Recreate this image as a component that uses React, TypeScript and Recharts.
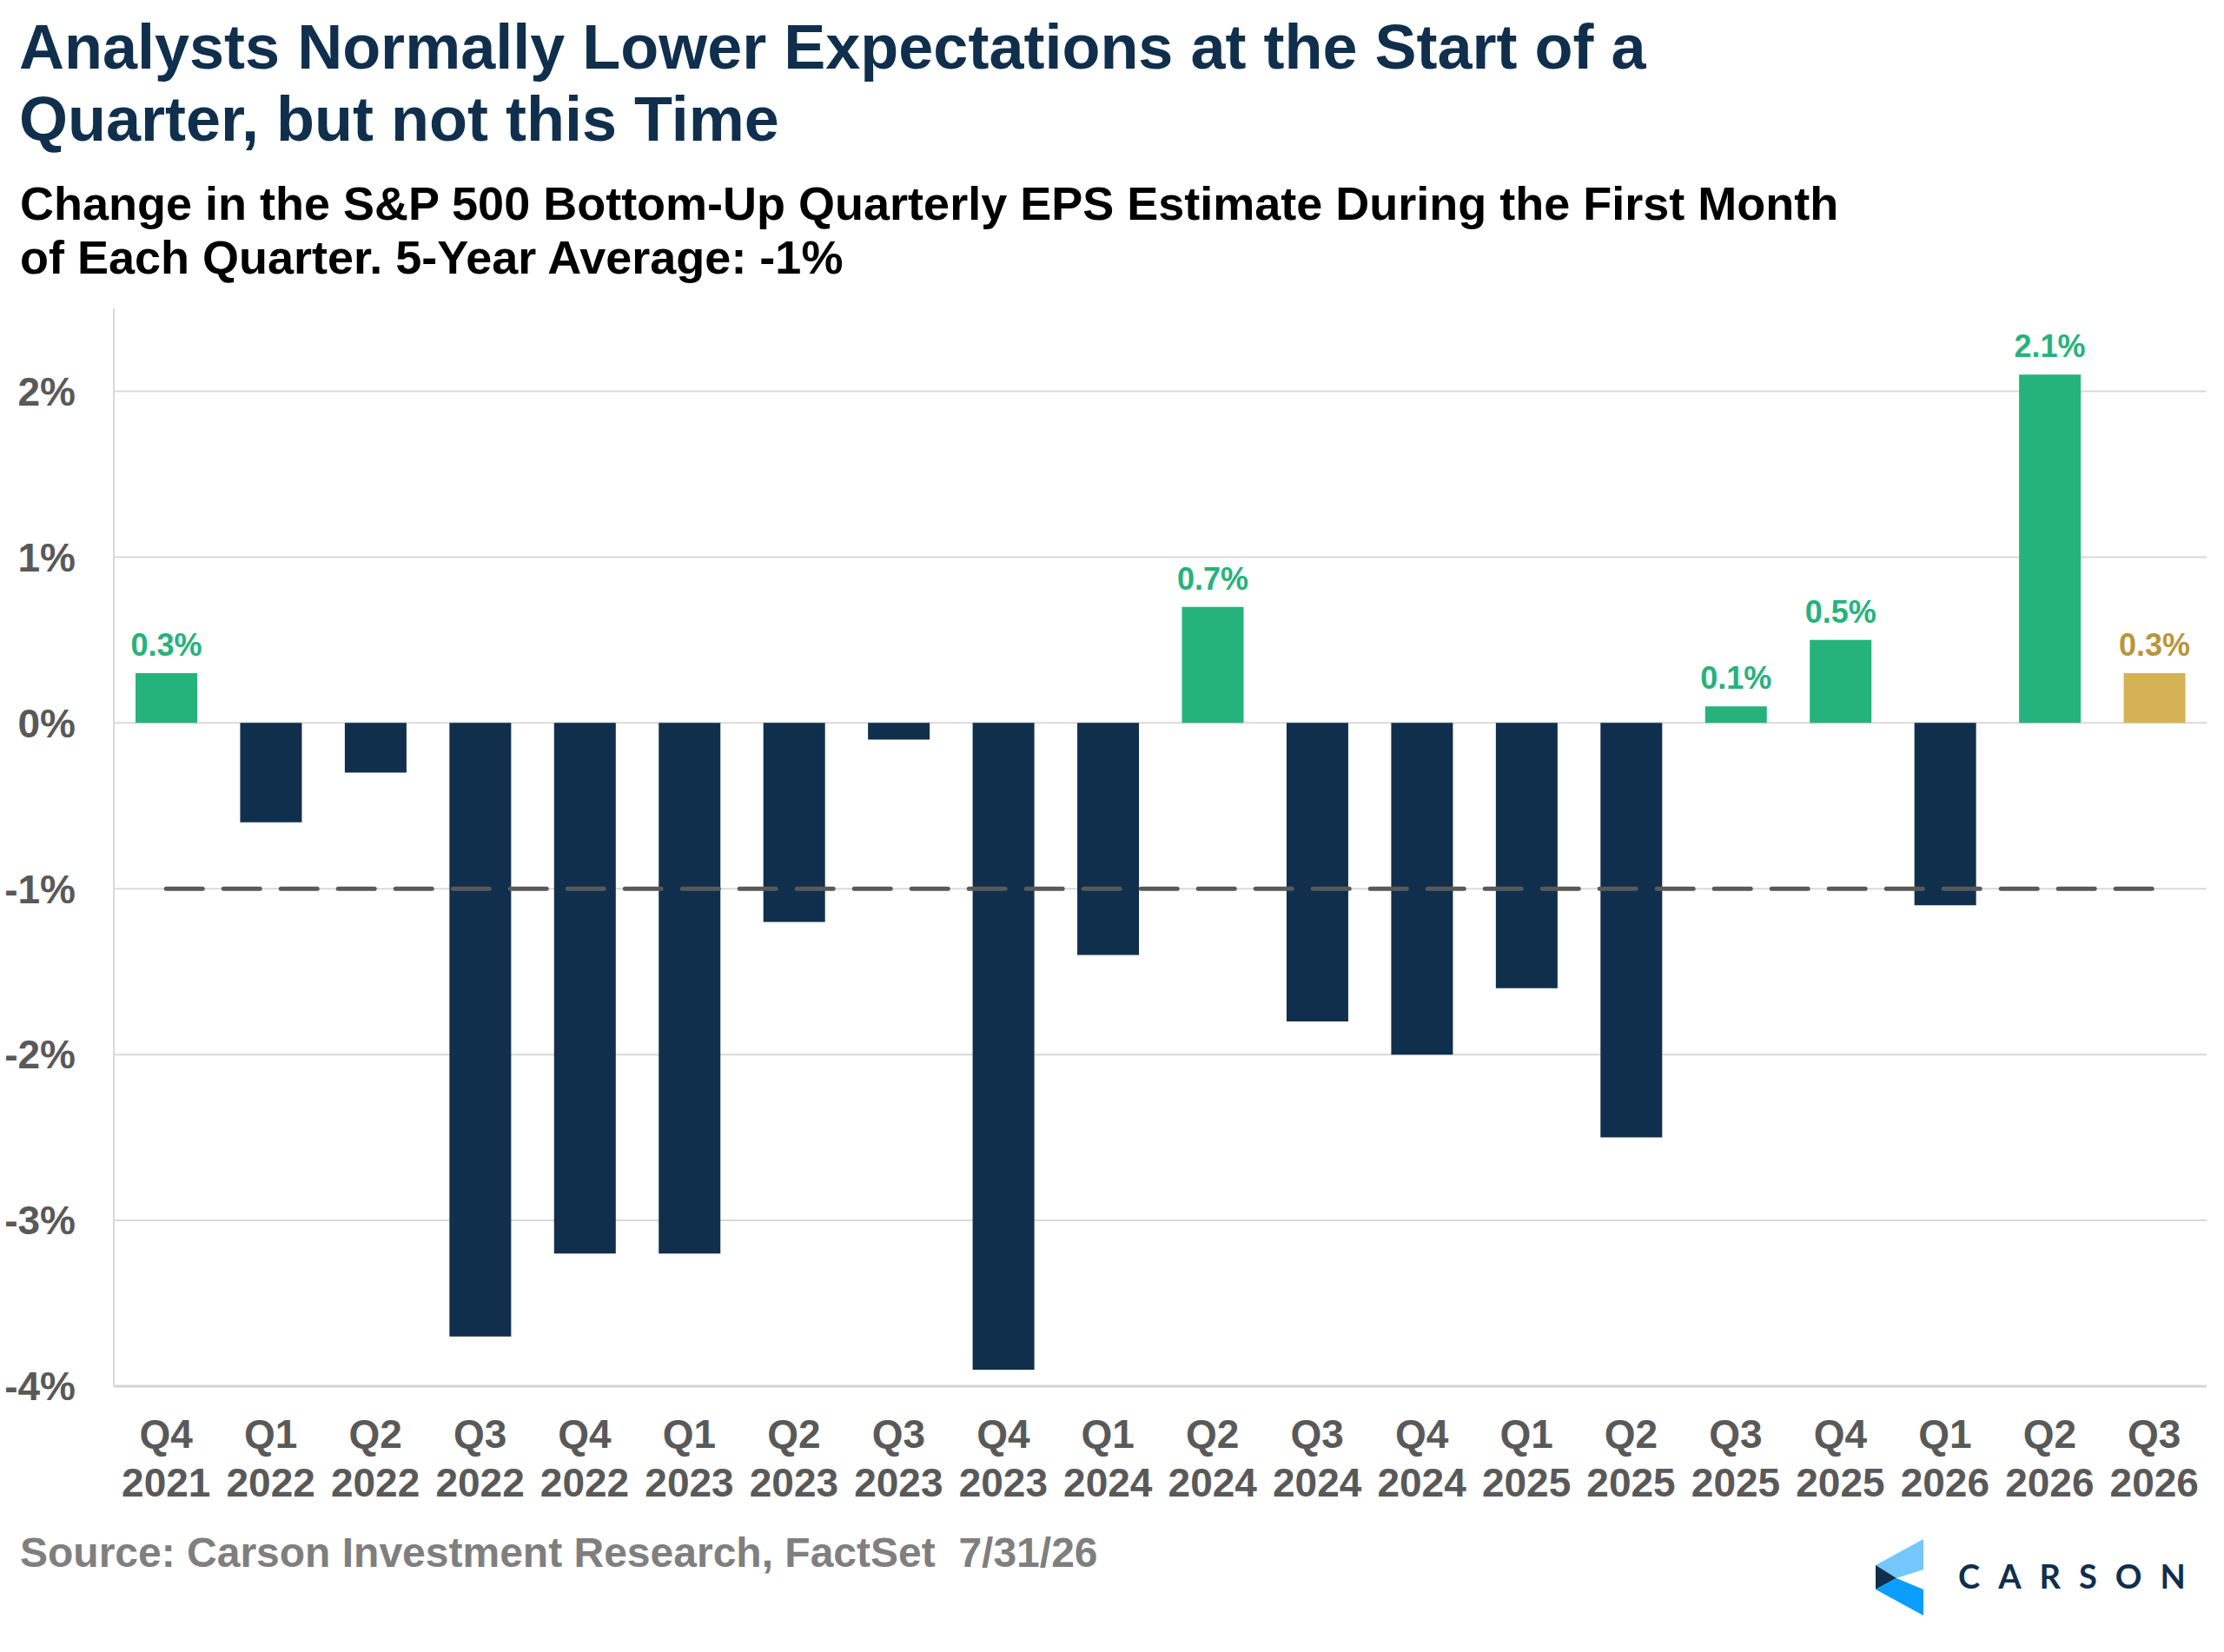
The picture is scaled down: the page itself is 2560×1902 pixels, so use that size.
import { ComposedChart, Bar, Line, Cell, XAxis, YAxis, CartesianGrid, LabelList } from 'recharts'

const quarters = ['Q4', 'Q1', 'Q2', 'Q3', 'Q4', 'Q1', 'Q2', 'Q3', 'Q4', 'Q1', 'Q2', 'Q3', 'Q4', 'Q1', 'Q2', 'Q3', 'Q4', 'Q1', 'Q2', 'Q3']
const years = ['2021', '2022', '2022', '2022', '2022', '2023', '2023', '2023', '2023', '2024', '2024', '2024', '2024', '2025', '2025', '2025', '2025', '2026', '2026', '2026']
const epsChange = [0.3, -0.6, -0.3, -3.7, -3.2, -3.2, -1.2, -0.1, -3.9, -1.4, 0.7, -1.8, -2.0, -1.6, -2.5, 0.1, 0.5, -1.1, 2.1, 0.3]
const fiveYearAvg = -1
const yDomain = [-4, 2.5]
const yTicks = [-4, -3, -2, -1, 0, 1, 2]

const data = quarters.map((q, i) => ({
  label: `${q} ${years[i]}`,
  change: epsChange[i],
  avg: fiveYearAvg,
}))

const NAVY = '#0f2f4d'
const GREEN = '#25b37b'
const GOLD = '#d5b355'
const GOLD_TEXT = '#b8963a'
const AXIS_GRAY = '#595959'
const FONT = '"Liberation Sans", Arial, sans-serif'

const barColor = (v: number, i: number) => (v < 0 ? NAVY : i === data.length - 1 ? GOLD : GREEN)

// grid only at the labelled ticks (no line at the 2.5% top edge)
const gridRows = ({ yAxis, offset }: any) => {
  const s = yAxis && yAxis.scale
  if (typeof s === 'function') return yTicks.map((t) => s(t))
  const [lo, hi] = yDomain
  return yTicks.map((t) => offset.top + ((hi - t) / (hi - lo)) * offset.height)
}

function QuarterTick({ x, y, payload }: any) {
  const [q, yr] = String(payload.value).split(' ')
  return (
    <g>
      <text x={x} y={y + 71} textAnchor="middle" fontSize={46} fontWeight={700} fill={AXIS_GRAY} fontFamily={FONT}>
        {q}
      </text>
      <text x={x} y={y + 127} textAnchor="middle" fontSize={46} fontWeight={700} fill={AXIS_GRAY} fontFamily={FONT}>
        {yr}
      </text>
    </g>
  )
}

function ValueLabel({ x, y, width, value, index }: any) {
  if (value < 0) return null
  const fill = index === data.length - 1 ? GOLD_TEXT : GREEN
  return (
    <text x={x + width / 2} y={y - 20} textAnchor="middle" fontSize={36} fontWeight={700} fill={fill} fontFamily={FONT}>
      {`${Number(value).toFixed(1)}%`}
    </text>
  )
}

export default function App() {
  return (
    <div style={{ position: 'absolute', left: 0, top: 0, width: 2560, height: 1902, background: '#fff' }}>
      <ComposedChart
        width={2560}
        height={1800}
        data={data}
        margin={{ top: 355, right: 20, bottom: 0, left: 0 }}
        style={{ position: 'absolute', left: 0, top: 0 }}
      >
        <CartesianGrid vertical={false} stroke="#d9d9d9" strokeWidth={2} horizontalCoordinatesGenerator={gridRows} />
        <XAxis
          dataKey="label"
          height={204}
          tick={<QuarterTick />}
          tickSize={0}
          tickMargin={0}
          tickLine={false}
          interval={0}
          axisLine={{ stroke: '#d4d4d4', strokeWidth: 3 }}
        />
        <YAxis
          width={131}
          domain={yDomain}
          ticks={yTicks}
          tickFormatter={(v) => `${v}%`}
          tick={{ fontSize: 46, fontWeight: 700, fill: AXIS_GRAY, fontFamily: FONT }}
          tickSize={0}
          tickMargin={44}
          tickLine={false}
          axisLine={{ stroke: '#d9d9d9', strokeWidth: 2 }}
          allowDataOverflow
        />
        <Bar dataKey="change" barSize={71} isAnimationActive={false}>
          {data.map((d, i) => (
            <Cell key={d.label} fill={barColor(d.change, i)} />
          ))}
          <LabelList dataKey="change" content={<ValueLabel />} />
        </Bar>
        <Line
          dataKey="avg"
          type="linear"
          stroke={AXIS_GRAY}
          strokeWidth={5}
          strokeDasharray="42 24"
          strokeLinecap="round"
          dot={false}
          activeDot={false}
          isAnimationActive={false}
        />
      </ComposedChart>

      <svg width={2560} height={1902} style={{ position: 'absolute', left: 0, top: 0, pointerEvents: 'none' }}>
        <g fontFamily={FONT} fontWeight={700}>
          <text x={22} y={79} fontSize={72} fill={NAVY}>Analysts Normally Lower Expectations at the Start of a</text>
          <text x={22} y={162} fontSize={72} fill={NAVY}>Quarter, but not this Time</text>
          <text x={23} y={253} fontSize={54} fill="#000">Change in the S&amp;P 500 Bottom-Up Quarterly EPS Estimate During the First Month</text>
          <text x={23} y={315} fontSize={54} fill="#000">of Each Quarter. 5-Year Average: -1%</text>
          <text x={23} y={1804} fontSize={48} fill="#7f7f7f" style={{ whiteSpace: 'pre' }}>
            Source: Carson Investment Research, FactSet  7/31/26
          </text>
        </g>
        <g>
          <polygon points="2214,1772 2214,1807 2183,1817 2159,1802" fill="#74c6fb" />
          <polygon points="2159,1802 2183,1817 2159,1830" fill={NAVY} />
          <polygon points="2159,1830 2183,1817 2214,1830 2214,1860" fill="#0a9eff" />
          <text x={2254} y={1829} fontSize={38} fontWeight={700} fill={NAVY} fontFamily="Lato, Inter, sans-serif" letterSpacing={21}>
            CARSON
          </text>
        </g>
      </svg>
    </div>
  )
}
